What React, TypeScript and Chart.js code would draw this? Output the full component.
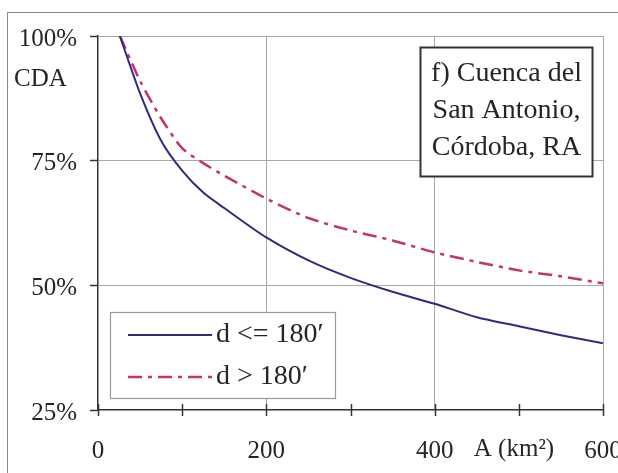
import React, { useEffect, useRef } from "react";
import { Chart, registerables } from "chart.js";

Chart.register(...registerables);

const areas = [26, 50, 75, 100, 125, 150, 200, 250, 300, 350, 400, 450, 500, 550, 600];
const cdaShort = [100, 88.5, 79, 73, 68.6, 65.5, 59.6, 55, 51.5, 48.7, 46.3, 43.6, 41.8, 40, 38.4];
const cdaLong = [100, 91, 83.5, 77.5, 74.5, 72, 67.4, 63.5, 61, 59, 56.6, 54.7, 53, 51.8, 50.4];
const seriesLabels = ["d <= 180\u2032", "d > 180\u2032"];
const yTicks = [25, 50, 75, 100];
const xLabelTicks = [0, 200, 400, 600];
const annotationLines = ["f) Cuenca del", "San Antonio,", "C\u00f3rdoba, RA"];
const yTitle = "CDA";
const xTitle = "A (km\u00b2)";

const FONT = "'Liberation Serif', 'Times New Roman', serif";
const TEXT = "#252525";
const GRID = "#a8a8a8";
const AXIS = "#333333";

const decorPlugin = {
  id: "decor",
  beforeDraw(chart: any) {
    const ctx = chart.ctx;
    ctx.save();
    ctx.fillStyle = "#ffffff";
    ctx.fillRect(0, 0, chart.width, chart.height);
    ctx.strokeStyle = "#8a8a8a";
    ctx.lineWidth = 1;
    ctx.strokeRect(7.5, 12.5, 800, 800);
    ctx.restore();
  },
  afterDraw(chart: any) {
    const ctx = chart.ctx;
    const xs = chart.scales.x;
    const ca = chart.chartArea;
    ctx.save();
    // x tick marks crossing the axis
    ctx.strokeStyle = AXIS;
    ctx.lineWidth = 1.5;
    for (let v = 0; v <= 600; v += 100) {
      const px = Math.round(xs.getPixelForValue(v)) + 0.5;
      ctx.beginPath();
      ctx.moveTo(px, ca.bottom - 6);
      ctx.lineTo(px, ca.bottom + 6);
      ctx.stroke();
    }
    // axis titles
    ctx.fillStyle = TEXT;
    ctx.font = `25px ${FONT}`;
    ctx.textBaseline = "middle";
    ctx.textAlign = "left";
    ctx.fillText(yTitle, 14, 79);
    ctx.textAlign = "center";
    ctx.fillText(xTitle, 514, 449);

    // legend
    const lx = 110.5, ly = 312.5, lw = 225, lh = 86;
    ctx.fillStyle = "#ffffff";
    ctx.fillRect(lx, ly, lw, lh);
    ctx.strokeStyle = "#9a9a9a";
    ctx.lineWidth = 1.2;
    ctx.strokeRect(lx, ly, lw, lh);
    const dsets = chart.data.datasets;
    const rowsY = [335, 377];
    dsets.forEach((ds: any, i: number) => {
      ctx.strokeStyle = ds.borderColor;
      ctx.lineWidth = ds.borderWidth;
      ctx.setLineDash(ds.borderDash || []);
      ctx.beginPath();
      ctx.moveTo(128, rowsY[i]);
      ctx.lineTo(212, rowsY[i]);
      ctx.stroke();
      ctx.setLineDash([]);
      ctx.fillStyle = TEXT;
      ctx.font = `28px ${FONT}`;
      ctx.textAlign = "left";
      ctx.textBaseline = "middle";
      ctx.fillText(ds.label, 216, rowsY[i]);
    });

    // annotation box
    const ax = 420.5, ay = 47.5, aw = 172, ah = 129;
    ctx.fillStyle = "#ffffff";
    ctx.fillRect(ax, ay, aw, ah);
    ctx.strokeStyle = "#333333";
    ctx.lineWidth = 2;
    ctx.strokeRect(ax, ay, aw, ah);
    ctx.fillStyle = TEXT;
    ctx.font = `28px ${FONT}`;
    ctx.textAlign = "center";
    ctx.textBaseline = "middle";
    annotationLines.forEach((t, i) => {
      ctx.fillText(t, ax + aw / 2, 74 + i * 37);
    });
    ctx.restore();
  },
};

export default function App() {
  const ref = useRef<HTMLCanvasElement | null>(null);
  useEffect(() => {
    if (!ref.current) return;
    const chart = new Chart(ref.current, {
      type: "line",
      data: {
        datasets: [
          {
            label: seriesLabels[0],
            data: areas.map((a, i) => ({ x: a, y: cdaShort[i] })),
            borderColor: "#2e2c7e",
            borderWidth: 2,
            pointRadius: 0,
            tension: 0.25,
            fill: false,
          },
          {
            label: seriesLabels[1],
            data: areas.map((a, i) => ({ x: a, y: cdaLong[i] })),
            borderColor: "#c2336f",
            borderWidth: 2.5,
            borderDash: [14, 6, 4, 6],
            pointRadius: 0,
            tension: 0.25,
            fill: false,
          },
        ],
      },
      options: {
        responsive: false,
        animation: false,
        layout: { padding: { left: 0, top: 36, right: 15, bottom: 0 } },
        plugins: {
          legend: { display: false },
          tooltip: { enabled: false },
          title: { display: false },
        },
        scales: {
          x: {
            type: "linear",
            min: 0,
            max: 600,
            afterFit: (s: any) => {
              s.height = 63;
              s.paddingLeft = 0;
              s.paddingRight = 0;
            },
            afterBuildTicks: (s: any) => {
              s.ticks = xLabelTicks.map((v) => ({ value: v }));
            },
            grid: {
              drawTicks: false,
              tickLength: 0,
              color: (c: any) =>
                c.tick && c.tick.value !== 0 && c.tick.value % 200 === 0 ? GRID : "rgba(0,0,0,0)",
              lineWidth: 1,
            },
            border: { display: true, color: AXIS, width: 1.5 },
            ticks: {
              padding: 26,
              maxRotation: 0,
              autoSkip: false,
              color: TEXT,
              font: { family: FONT, size: 25 },
              callback: (v: any) => String(v),
            },
          },
          y: {
            type: "linear",
            min: 25,
            max: 100,
            afterFit: (s: any) => {
              s.width = 98;
              s.paddingTop = 0;
              s.paddingBottom = 0;
            },
            afterBuildTicks: (s: any) => {
              s.ticks = yTicks.map((v) => ({ value: v }));
            },
            grid: {
              drawTicks: true,
              tickLength: 8,
              tickColor: AXIS,
              tickWidth: 1.5,
              color: (c: any) => (c.tick && c.tick.value === 25 ? "rgba(0,0,0,0)" : GRID),
              lineWidth: 1,
            },
            border: { display: true, color: AXIS, width: 1.5 },
            ticks: {
              padding: 13,
              labelOffset: 3,
              color: TEXT,
              font: { family: FONT, size: 25 },
              callback: (v: any) => v + "%",
            },
          },
        },
      },
      plugins: [decorPlugin],
    } as any);
    return () => chart.destroy();
  }, []);
  return (
    <div style={{ position: "fixed", left: 0, top: 0, width: 618, height: 473, background: "#fff" }}>
      <canvas ref={ref} width={618} height={473} style={{ width: 618, height: 473, display: "block" }} />
    </div>
  );
}
